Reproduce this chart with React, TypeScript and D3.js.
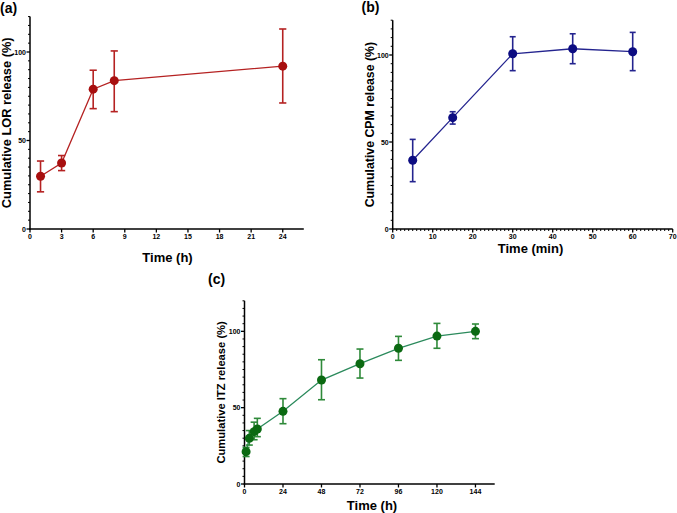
import React from "react";
import { scaleLinear, line, range } from "d3";

// (a) LOR release, time in h
const lorTime = [1, 3, 6, 8, 24];
const lorMean = [29.8, 37.3, 79, 83.8, 92];
const lorLow = [21, 33, 68, 66.3, 71.2];
const lorHigh = [38.4, 41.5, 89.7, 100.6, 113];

// (b) CPM release, time in min
const cpmTime = [5, 15, 30, 45, 60];
const cpmMean = [39.5, 64, 100.7, 103.6, 101.9];
const cpmLow = [27.2, 60.3, 91, 95, 91];
const cpmHigh = [51.5, 67.4, 110.5, 112.2, 113];

// (c) ITZ release, time in h
const itzTime = [1, 3, 6, 8, 24, 48, 72, 96, 120, 144];
const itzMean = [21.2, 29.9, 34.3, 36, 47.6, 68.1, 78.8, 88.9, 96.9, 100];
const itzLow = [18, 25.5, 29, 31, 39.5, 55.2, 69.4, 81, 88.9, 95.2];
const itzHigh = [24, 35, 40.5, 43, 55.9, 81.4, 88.4, 96.7, 105.2, 104.8];

const yMajor = [0, 50, 100];

const FONT = "'Liberation Sans', Arial, Helvetica, sans-serif";

type PanelProps = {
  label: string;
  labelPos: [number, number];
  xs: number[];
  mean: number[];
  low: number[];
  high: number[];
  xDomain: [number, number];
  xRange: [number, number];
  yRange: [number, number];
  xTicks: number[];
  xMinor: number[];
  yTitle: string;
  yTitleX: number;
  yTitleSize: number;
  xTitle: string;
  xTitlePos: [number, number];
  dot: string;
  lineColor: string;
  barColor: string;
  cap: number;
};

const Panel = (p: PanelProps) => {
  const x = scaleLinear().domain(p.xDomain).range(p.xRange);
  const y = scaleLinear().domain([0, 120]).range(p.yRange);
  const pts = p.xs.map((t, i) => [t, p.mean[i]] as [number, number]);
  const path = line<[number, number]>()
    .x((d) => x(d[0]))
    .y((d) => y(d[1]))(pts);
  const x0 = x(0);
  const y0 = y(0);
  const yMinor = range(0, 121, 5).filter((v) => !yMajor.includes(v));
  return (
    <g>
      <text x={p.labelPos[0]} y={p.labelPos[1]} fontSize={14} fontWeight="bold" fontFamily={FONT}>
        {p.label}
      </text>
      {/* axes */}
      <line x1={x0} x2={x0} y1={y0 + 0.75} y2={y(120)} stroke="#000" strokeWidth={1.5} />
      <line x1={x0 - 0.75} x2={x(p.xDomain[1])} y1={y0} y2={y0} stroke="#000" strokeWidth={1.5} />
      {yMinor.map((v) => (
        <line key={"ym" + v} x1={x0 - 2} x2={x0} y1={y(v)} y2={y(v)} stroke="#000" strokeWidth={1} />
      ))}
      {yMajor.map((v) => (
        <g key={"y" + v}>
          <line x1={x0 - 3.5} x2={x0} y1={y(v)} y2={y(v)} stroke="#000" strokeWidth={1.3} />
          <text x={x0 - 4} y={y(v) + 2.5} textAnchor="end" fontSize={7} fontWeight="bold" fontFamily={FONT}>
            {v}
          </text>
        </g>
      ))}
      {p.xMinor.map((v) => (
        <line key={"xm" + v} x1={x(v)} x2={x(v)} y1={y0} y2={y0 + 2} stroke="#000" strokeWidth={1} />
      ))}
      {p.xTicks.map((v) => (
        <g key={"x" + v}>
          <line x1={x(v)} x2={x(v)} y1={y0} y2={y0 + 3.5} stroke="#000" strokeWidth={1.3} />
          <text x={x(v)} y={y0 + 10} textAnchor="middle" fontSize={7} fontWeight="bold" fontFamily={FONT}>
            {v}
          </text>
        </g>
      ))}
      {/* titles */}
      <text
        transform={`translate(${p.yTitleX},${(y(0) + y(120)) / 2}) rotate(-90)`}
        textAnchor="middle"
        fontSize={p.yTitleSize}
        fontWeight="bold"
        fontFamily={FONT}
      >
        {p.yTitle}
      </text>
      <text x={p.xTitlePos[0]} y={p.xTitlePos[1]} textAnchor="middle" fontSize={13} fontWeight="bold" fontFamily={FONT}>
        {p.xTitle}
      </text>
      {/* data */}
      <path d={path ?? ""} fill="none" stroke={p.lineColor} strokeWidth={1.3} />
      {p.xs.map((t, i) => (
        <g key={"e" + i} stroke={p.barColor} strokeWidth={1.6}>
          <line x1={x(t)} x2={x(t)} y1={y(p.low[i])} y2={y(p.high[i])} />
          <line x1={x(t) - p.cap} x2={x(t) + p.cap} y1={y(p.low[i])} y2={y(p.low[i])} />
          <line x1={x(t) - p.cap} x2={x(t) + p.cap} y1={y(p.high[i])} y2={y(p.high[i])} />
        </g>
      ))}
      {p.xs.map((t, i) => (
        <circle key={"c" + i} cx={x(t)} cy={y(p.mean[i])} r={4.5} fill={p.dot} />
      ))}
    </g>
  );
};

export default function App() {
  return (
    <div style={{ position: "absolute", left: 0, top: 0 }}>
      <svg width={677} height={513} style={{ display: "block", background: "#fff" }}>
        <Panel
          label="(a)"
          labelPos={[0, 12.5]}
          xs={lorTime}
          mean={lorMean}
          low={lorLow}
          high={lorHigh}
          xDomain={[0, 26]}
          xRange={[30, 303.8]}
          yRange={[229, 16.6]}
          xTicks={range(0, 25, 3)}
          xMinor={[]}
          yTitle="Cumulative LOR release (%)"
          yTitleX={10.5}
          yTitleSize={12.8}
          xTitle="Time (h)"
          xTitlePos={[167.5, 262]}
          dot="#a80f0f"
          lineColor="#b52222"
          barColor="#b52222"
          cap={3.6}
        />
        <Panel
          label="(b)"
          labelPos={[361.5, 11.5]}
          xs={cpmTime}
          mean={cpmMean}
          low={cpmLow}
          high={cpmHigh}
          xDomain={[0, 70]}
          xRange={[392.7, 672.7]}
          yRange={[229, 20.2]}
          xTicks={range(0, 71, 10)}
          xMinor={range(0, 71, 1).filter((v) => v % 10 !== 0)}
          yTitle="Cumulative CPM release (%)"
          yTitleX={373.5}
          yTitleSize={12.3}
          xTitle="Time (min)"
          xTitlePos={[530.5, 252.5]}
          dot="#0c0c82"
          lineColor="#24248f"
          barColor="#24248f"
          cap={3}
        />
        <Panel
          label="(c)"
          labelPos={[208, 284]}
          xs={itzTime}
          mean={itzMean}
          low={itzLow}
          high={itzHigh}
          xDomain={[0, 156]}
          xRange={[244.5, 494.7]}
          yRange={[484, 300.8]}
          xTicks={range(0, 145, 24)}
          xMinor={[]}
          yTitle="Cumulative ITZ release (%)"
          yTitleX={224.5}
          yTitleSize={11.2}
          xTitle="Time (h)"
          xTitlePos={[372, 510]}
          dot="#0b6a12"
          lineColor="#2b8a5c"
          barColor="#2f8a3a"
          cap={3.5}
        />
      </svg>
    </div>
  );
}
